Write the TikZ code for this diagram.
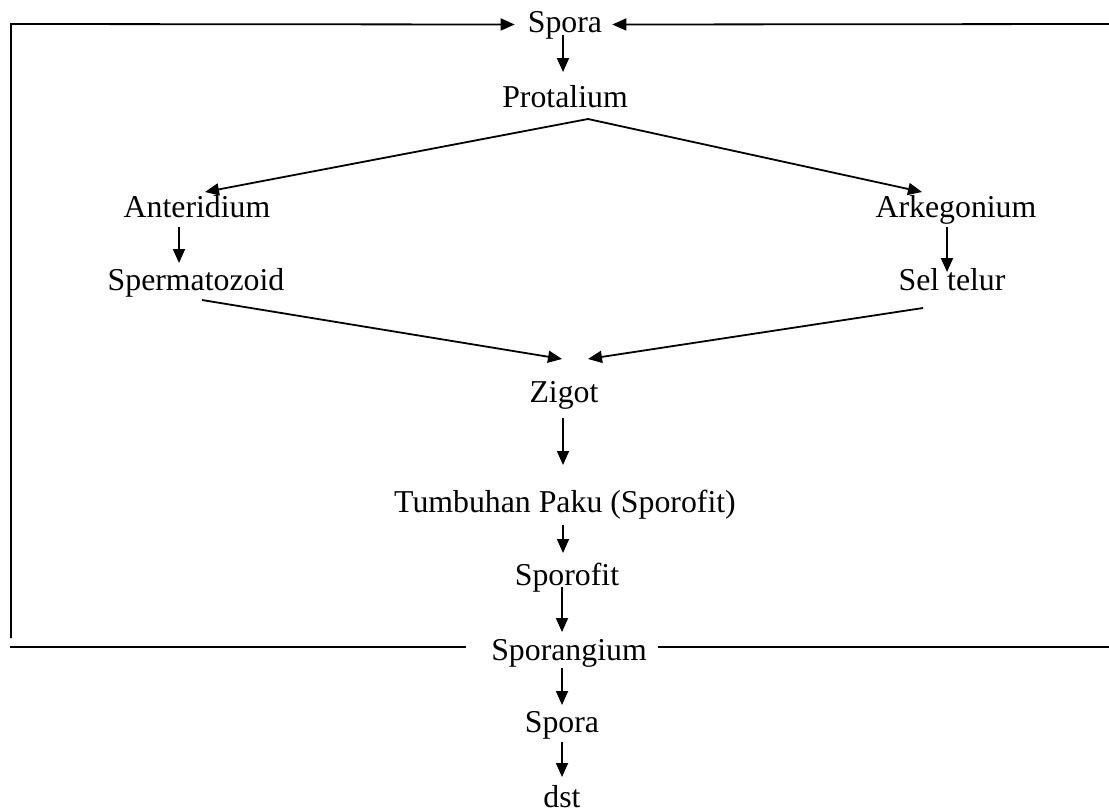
\documentclass[tikz,border=0pt]{standalone}
\usepackage{fontspec}
\setmainfont{Liberation Serif}
\usetikzlibrary{arrows.meta}

\begin{document}
\begin{tikzpicture}[x=1pt,y=-1pt,
    lbl/.style={inner sep=0pt,anchor=base,text height=22pt,text depth=7pt,
        font=\fontsize{31.8}{38}\selectfont},
    ln/.style={line width=1.8pt},
    arr/.style={ln,-{Triangle[length=14pt,width=12pt]}}]
            \useasboundingbox (0,0) rectangle (1109,809);

            % tahapan siklus
            \node[lbl] (spora) at (565,32) {Spora};
            \node[lbl] (prot) at (565,107) {Protalium};
            \node[lbl] (anter) at (197,217) {Anteridium};
            \node[lbl] (arke) at (956,217) {Arkegonium};
            \node[lbl] (sperm) at (196,290) {Spermatozoid};
            \node[lbl] (sel) at (952,290) {Sel telur};
            \node[lbl] (zigot) at (564,402) {Zigot};
            \node[lbl] (tumb) at (565,512) {Tumbuhan Paku (Sporofit)};
            \node[lbl] (sporofit) at (567,585) {Sporofit};
            \node[lbl] (sporang) at (569,660) {Sporangium};
            \node[lbl] (spora2) at (562,732) {Spora};
            \node[lbl] (dst) at (562,807) {dst};

            \draw[arr] ([xshift=-2pt,yshift=-3pt]spora.base) -- ([xshift=-2pt,yshift=35pt]prot.base);
            \draw[arr] ([xshift=23pt,yshift=-12pt]prot.base) -- ([xshift=8pt,yshift=25pt]anter.base);
            \draw[arr] ([xshift=23pt,yshift=-12pt]prot.base) -- ([xshift=-34pt,yshift=25pt]arke.base);
            \draw[arr] ([xshift=-18pt,yshift=-10pt]anter.base) -- ([xshift=-17pt,yshift=27pt]sperm.base);
            \draw[arr] ([xshift=-9pt,yshift=-10pt]arke.base) -- ([xshift=-5pt,yshift=18pt]sel.base);
            \draw[arr] ([xshift=6pt,yshift=-10pt]sperm.base) -- ([xshift=-2pt,yshift=43pt]zigot.base);
            \draw[arr] ([xshift=-29pt,yshift=-18pt]sel.base) -- ([xshift=24pt,yshift=43pt]zigot.base);
            \draw[arr] ([xshift=-1pt,yshift=-16pt]zigot.base) -- ([xshift=-2pt,yshift=47pt]tumb.base);
            \draw[arr] ([xshift=-2pt,yshift=-13pt]tumb.base) -- ([xshift=-4pt,yshift=32pt]sporofit.base);
            \draw[arr] ([xshift=-5pt,yshift=-2pt]sporofit.base) -- ([xshift=-7pt,yshift=28pt]sporang.base);
            \draw[arr] ([xshift=-7pt,yshift=-8pt]sporang.base) -- ([yshift=27pt]spora2.base);
            \draw[arr] ([yshift=-10pt]spora2.base) -- ([yshift=30pt]dst.base);

            % garis kembali ke spora
            \coordinate (lbot) at (11,638);
            \coordinate (ltop) at (11,24);
            \coordinate (rtop) at (1109,24);
            \coordinate (lmid) at (10,647);
            \coordinate (rmid) at (1109,647);
            \draw[arr] (lbot) -- (ltop) -- ([xshift=-13pt]spora.west);
            \draw[arr] (rtop) -- ([xshift=10pt]spora.east);
            \draw[ln] (lmid) -- ([xshift=-25pt]sporang.west |- lmid);
            \draw[ln] ([xshift=11pt]sporang.east |- rmid) -- (rmid);
            \end{tikzpicture}
\end{document}
